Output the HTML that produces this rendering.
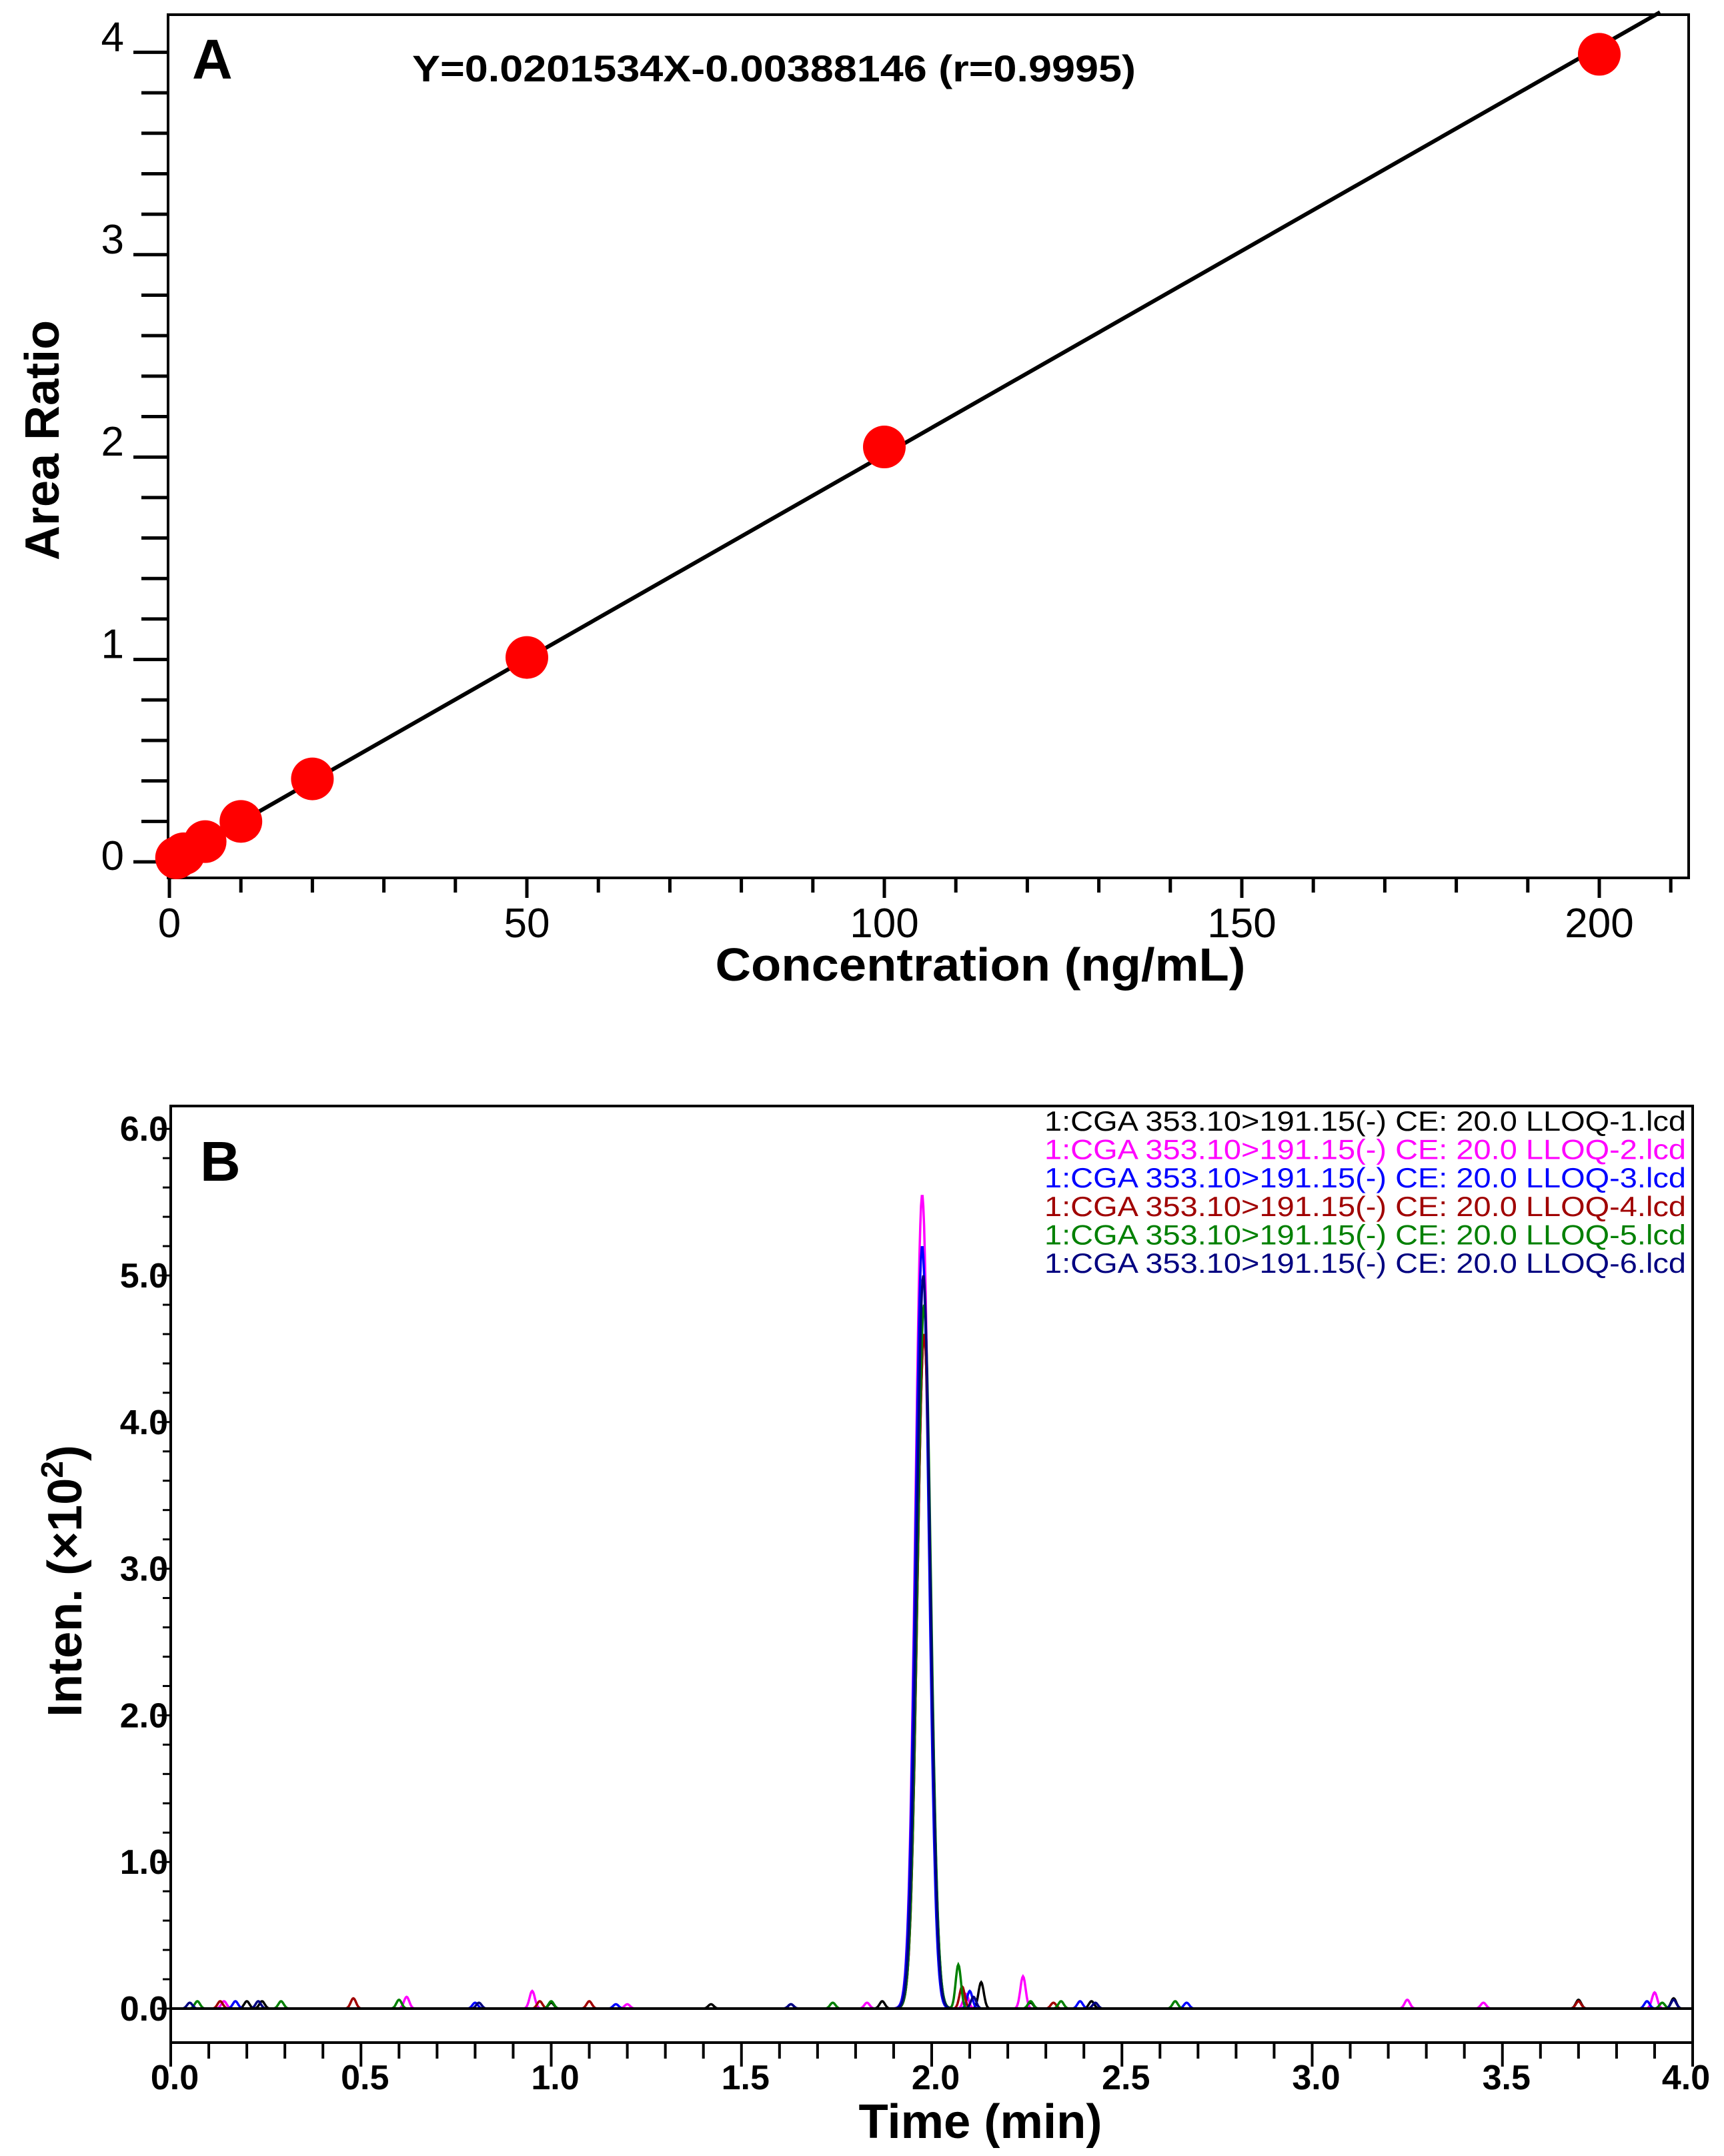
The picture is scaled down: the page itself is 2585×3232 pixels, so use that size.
<!DOCTYPE html>
<html><head><meta charset="utf-8"><style>
html,body{margin:0;padding:0;background:#fff;}
svg{display:block;}
text{font-family:"Liberation Sans",sans-serif;}
.n{font-family:"Liberation Sans",sans-serif;}
</style></head><body>
<svg id="fig" xmlns="http://www.w3.org/2000/svg" width="2585" height="3232" viewBox="0 0 2585 3232">
<g id="panelA">
  <rect x="252" y="22" width="2280" height="1294" fill="none" stroke="#000" stroke-width="4"/>
  <text x="288" y="118" font-size="84" font-weight="bold">A</text>
  <text x="618" y="122" font-size="56" font-weight="bold" textLength="1085" lengthAdjust="spacingAndGlyphs">Y=0.0201534X-0.00388146 (r=0.9995)</text>
  <text transform="translate(88,660) rotate(-90)" text-anchor="middle" font-size="72" font-weight="bold">Area Ratio</text>
  <text x="1470" y="1470" text-anchor="middle" font-size="70" font-weight="bold" textLength="795" lengthAdjust="spacingAndGlyphs">Concentration (ng/mL)</text>
  <g id="axA"></g><g id="markA"></g>
</g>
<g id="panelB">
  <rect x="256" y="1658" width="2282" height="1404" fill="none" stroke="#000" stroke-width="4"/>
  <text x="300" y="1770" font-size="84" font-weight="bold">B</text>
  <text transform="translate(122,2370) rotate(-90)" text-anchor="middle" font-size="72" font-weight="bold">Inten. (×10<tspan dy="-28" font-size="46">2</tspan><tspan dy="28">)</tspan></text>
  <text x="1470" y="3205" text-anchor="middle" font-size="72" font-weight="bold" textLength="365" lengthAdjust="spacingAndGlyphs">Time (min)</text>
  <g id="axB"></g><g id="markB"></g><g id="legB"></g>
</g>
</svg>
<script>
// ---- Panel A data ----
const concA = [1, 2, 5, 10, 20, 50, 100, 200];
const ratioA = [0.02, 0.04, 0.10, 0.20, 0.41, 1.01, 2.05, 3.99];
const slopeA = 0.0201534, interceptA = -0.00388146;
const xTicksA = [0, 50, 100, 150, 200];
const yTicksA = [0, 1, 2, 3, 4];

// ---- Panel B data ----
const seriesNames = ['LLOQ-1','LLOQ-2','LLOQ-3','LLOQ-4','LLOQ-5','LLOQ-6'];
const seriesColors = ['#000000','#ff00ff','#0000ff','#a00000','#008000','#000080'];
const peakTime = [1.98, 1.975, 1.975, 1.98, 1.98, 1.978];
const peakHeight = [4.6, 5.55, 5.2, 4.6, 4.8, 5.0];
const bumpTimes = [
  [0.2, 0.24, 1.0, 1.42, 1.87, 2.13, 2.26, 2.42, 3.7, 3.95],
  [0.14, 0.62, 0.95, 1.2, 1.83, 2.09, 2.24, 3.25, 3.45, 3.9],
  [0.17, 0.8, 1.17, 1.63, 2.1, 2.39, 2.67, 3.88],
  [0.13, 0.48, 0.97, 1.1, 2.08, 2.32, 3.7],
  [0.07, 0.29, 0.6, 1.0, 1.74, 2.07, 2.26, 2.34, 2.64, 3.92],
  [0.05, 0.23, 0.81, 1.63, 2.11, 2.43, 3.95]
];
const bumpHeights = [
  [0.05, 0.05, 0.04, 0.03, 0.05, 0.18, 0.04, 0.05, 0.06, 0.07],
  [0.05, 0.08, 0.12, 0.03, 0.04, 0.1, 0.22, 0.06, 0.04, 0.11],
  [0.05, 0.04, 0.03, 0.03, 0.12, 0.05, 0.04, 0.05],
  [0.05, 0.07, 0.05, 0.05, 0.15, 0.04, 0.05],
  [0.05, 0.05, 0.06, 0.05, 0.04, 0.3, 0.05, 0.05, 0.05, 0.04],
  [0.04, 0.05, 0.04, 0.03, 0.08, 0.04, 0.06]
];
const xTicksB = ['0.0','0.5','1.0','1.5','2.0','2.5','3.0','3.5','4.0'];
const yTicksB = ['0.0','1.0','2.0','3.0','4.0','5.0','6.0'];

const NS='http://www.w3.org/2000/svg';
function mk(tag, attrs, parent){const e=document.createElementNS(NS,tag);for(const k in attrs)e.setAttribute(k,attrs[k]);parent.appendChild(e);return e;}

// Panel A axes
const xA = v => 254 + v*10.72;
const yA = v => 1292 - v*303.4;
const axA=document.getElementById('axA');
for(let v=0; v<=210; v+=10){
  const t=mk('line',{x1:xA(v),x2:xA(v),y1:1318,y2:v%50===0?1346:1338,stroke:'#000','stroke-width':5},axA);
  
  
}
xTicksA.forEach(v=>{
  const t=mk('text',{x:xA(v),y:1405,'text-anchor':'middle','font-size':62,class:'n'},axA);
  t.textContent=v;
  
  
});
for(let i=0;i<=20;i++){
  const v=i*0.2;
  const t=mk('line',{x1:i%5===0?200:212,x2:252,y1:yA(v),y2:yA(v),stroke:'#000','stroke-width':5},axA);
  
  
}
yTicksA.forEach(v=>{
  const t=mk('text',{x:186,y:yA(v)+(v===0?12:-2),'text-anchor':'end','font-size':62,class:'n'},axA);
  t.textContent=v;
  
  
});
const markA=document.getElementById('markA');
const xEnd=208.5;
const fit=mk('line',{x1:xA(0),y1:yA(interceptA),x2:xA(xEnd),y2:yA(slopeA*xEnd+interceptA),stroke:'#000','stroke-width':6},markA);


concA.forEach((c,i)=>{
  const p=mk('circle',{cx:xA(c),cy:yA(ratioA[i]),r:32,fill:'#ff0000'},markA);
  
  
});

// Panel B axes
const xB = t => 256 + t*570.5;
const yB = v => 3011 - v*219.8;
const axB=document.getElementById('axB');
for(let i=0;i<=40;i++){
  const t=mk('line',{x1:xB(i/10),x2:xB(i/10),y1:3062,y2:i%5===0?3098:3086,stroke:'#000','stroke-width':4},axB);
  
  
}
xTicksB.forEach(s=>{
  const v=parseFloat(s);
  const t=mk('text',{x:xB(v)+(v===4?-10:6),y:3132,'text-anchor':'middle','font-size':52,'font-weight':'bold',class:'n'},axB);
  t.textContent=s;
  
  
});
for(let i=0;i<=30;i++){
  const v=i*0.2;
  const t=mk('line',{x1:i%5===0?236:244,x2:256,y1:yB(v),y2:yB(v),stroke:'#000','stroke-width':3},axB);
  
  
}
yTicksB.forEach(s=>{
  const v=parseFloat(s);
  const t=mk('text',{x:252,y:yB(v)+18,'text-anchor':'end','font-size':52,'font-weight':'bold',class:'n'},axB);
  t.textContent=s;
  
  
});
const markB=document.getElementById('markB');
seriesNames.forEach((nm,si)=>{
  let d='';
  for(let t=0;t<=4.0001;t+=0.002){
    let v=peakHeight[si]*Math.exp(-Math.pow((t-peakTime[si])/0.018,2)/2);
    bumpTimes[si].forEach((bt,bi)=>{v+=bumpHeights[si][bi]*Math.exp(-Math.pow((t-bt)/0.007,2)/2);});
    d+=(d?'L':'M')+xB(t).toFixed(1)+','+yB(v).toFixed(1);
  }
  const p=mk('path',{d:d,fill:'none',stroke:seriesColors[si],'stroke-width':3.5},markB);
  
  
});
const base=mk('line',{x1:256,x2:2538,y1:yB(0),y2:yB(0),stroke:'#000','stroke-width':4},markB);


const legB=document.getElementById('legB');
seriesNames.forEach((nm,si)=>{
  const t=mk('text',{x:1566,y:1695+si*42.6,'font-size':42,fill:seriesColors[si],textLength:962,lengthAdjust:'spacingAndGlyphs'},legB);
  t.textContent='1:CGA 353.10>191.15(-) CE: 20.0 '+nm+'.lcd';
  
  
});
</script>
</body></html>
